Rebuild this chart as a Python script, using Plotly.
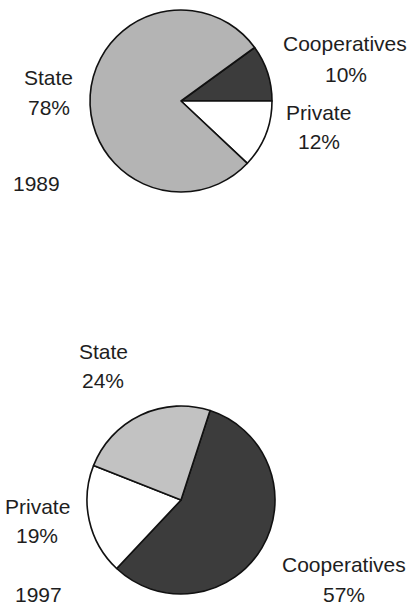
import plotly.graph_objects as go

W, H = 410, 605

# Shares of output by ownership sector
sectors = ["Cooperatives", "Private", "State"]
shares_1989 = [10, 12, 78]
shares_1997 = [57, 19, 24]
years = ["1989", "1997"]

colors = {"Cooperatives": "#3c3c3c", "Private": "#ffffff", "State": "#b4b4b4"}
colors_1997 = {"Cooperatives": "#3c3c3c", "Private": "#ffffff", "State": "#c2c2c2"}


def px_x(x):
    return x / W


def px_y(y):
    return 1 - y / H


fig = go.Figure()

# 1989 pie: centre (181, 101), radius ~91 px
fig.add_trace(go.Pie(
    labels=sectors, values=shares_1989, sort=False, direction="clockwise",
    rotation=54, textinfo="none", hoverinfo="label+percent", showlegend=False,
    marker=dict(colors=[colors[s] for s in sectors], line=dict(color="#111111", width=1.6)),
    domain=dict(x=[px_x(90), px_x(272)], y=[px_y(192), px_y(10)]),
))

# 1997 pie: centre (181, 500), radius ~94 px
fig.add_trace(go.Pie(
    labels=sectors, values=shares_1997, sort=False, direction="clockwise",
    rotation=18, textinfo="none", hoverinfo="label+percent", showlegend=False,
    marker=dict(colors=[colors_1997[s] for s in sectors], line=dict(color="#111111", width=1.6)),
    domain=dict(x=[px_x(87), px_x(275)], y=[px_y(594), px_y(406)]),
))

FONT = dict(family="Liberation Sans, Arial, sans-serif", size=21, color="#1e1e1e")


def label(text, cx, baseline):
    # place text so that its capital letters sit on the given baseline
    fig.add_annotation(
        text=text, xref="paper", yref="paper",
        x=px_x(cx), y=px_y(baseline - 7.5),
        xanchor="center", yanchor="middle", showarrow=False, font=FONT,
    )


# label anchors: (centre x, baseline of name, baseline of percentage)
pos_1989 = {"State": (48, 85, 115), "Cooperatives": (345, 51, 82), "Private": (318, 120, 149)}
pos_1997 = {"State": (103, 359, 388), "Private": (37, 514, 543), "Cooperatives": (344, 572, 602)}

for s, v in zip(sectors, shares_1989):
    cx, b1, b2 = pos_1989[s]
    label(s, cx, b1)
    label(f"{v}%", cx + 1, b2)

for s, v in zip(sectors, shares_1997):
    cx, b1, b2 = pos_1997[s]
    label(s, cx, b1)
    label(f"{v}%", cx, b2)

label(years[0], 36, 191)
label(years[1], 38, 602)

fig.update_layout(
    width=W, height=H,
    margin=dict(l=0, r=0, t=0, b=0),
    paper_bgcolor="white", plot_bgcolor="white",
)

fig.write_html("out.html")
